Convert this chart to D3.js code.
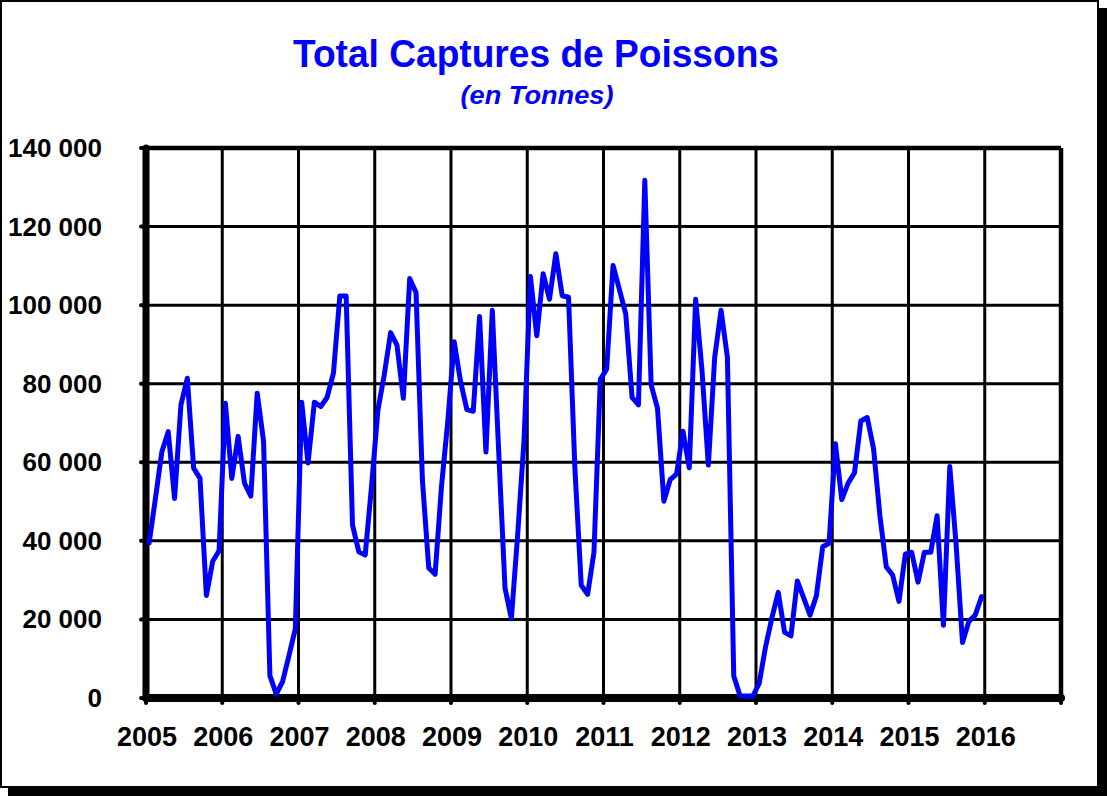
<!DOCTYPE html>
<html>
<head>
<meta charset="utf-8">
<script src="https://cdn.jsdelivr.net/npm/d3@7/dist/d3.min.js"></script>
<style>
	html, body { margin: 0; padding: 0; background: #fff; }
	svg { display: block; }
	text { font-family: 'Liberation Sans', Arial, sans-serif; font-weight: bold; }
</style>
</head>
<body>
<div id="chart"></div>
<script>
'use strict';

var years = ['2005', '2006', '2007', '2008', '2009', '2010', '2011', '2012', '2013', '2014', '2015', '2016'];
var yTicks = [0, 20000, 40000, 60000, 80000, 100000, 120000, 140000];

// monthly catches, jan 2005 -> dec 2015 (tonnes)
var captures = [
	39500, 51000, 62700, 67800, 50800, 74600, 81400, 58500, 55900, 26100, 34800, 37500,
	75000, 55900, 66600, 54700, 51400, 77600, 65400, 5700, 1000, 4200, 10800, 17600,
	75300, 59800, 75300, 74200, 76500, 82700, 102300, 102300, 44000, 37200, 36400, 54000,
	73300, 82300, 93000, 89800, 76300, 106800, 103200, 55500, 33100, 31500, 53800, 70500,
	90700, 80600, 73400, 73000, 97100, 62600, 98700, 63000, 28000, 20200, 41700, 65800,
	107300, 92200, 108000, 101500, 113100, 102400, 102000, 58400, 28700, 26400, 37100, 81100,
	83700, 110100, 104000, 97800, 76500, 74600, 131800, 79700, 73700, 50100, 55600, 57000,
	67900, 58600, 101500, 83400, 59300, 86700, 98700, 86700, 5600, 500, 500, 500,
	3700, 13000, 20400, 26900, 16700, 15800, 29800, 25500, 21100, 26000, 38500, 39400,
	64700, 50500, 54700, 57300, 70500, 71400, 63500, 46400, 33400, 31300, 24600, 36600,
	37100, 29500, 37100, 37100, 46400, 18500, 58900, 38900, 14100, 19500, 21100, 25800
];

var width = 1107;
var height = 796;
var monthsPerYear = 12;
var nMonths = years.length * monthsPerYear;

var plot = {left: 146, right: 1061, top: 148, bottom: 698};

var svg = d3.select('#chart')
	.append('svg')
	.attr('width', width)
	.attr('height', height);

// frame with shadow
svg.append('rect')
	.attr('x', 8).attr('y', 8)
	.attr('width', width - 8).attr('height', height - 8)
	.style('fill', '#000');
svg.append('rect')
	.attr('x', 1).attr('y', 1)
	.attr('width', 1097).attr('height', 786)
	.style('fill', '#fff')
	.style('stroke', '#000')
	.style('stroke-width', 2);

var x = d3.scaleLinear()
	.domain([0, nMonths])
	.range([plot.left, plot.right]);

var y = d3.scaleLinear()
	.domain([0, 140000])
	.range([plot.bottom, plot.top]);

var fr = d3.formatLocale({decimal: ',', thousands: ' ', grouping: [3], currency: ['', '']});
var fmt = fr.format(',d');

//titles
svg.append('text')
	.text('Total Captures de Poissons')
	.attr('x', 536)
	.attr('y', 67)
	.attr('text-anchor', 'middle')
	.attr('textLength', 486)
	.attr('lengthAdjust', 'spacingAndGlyphs')
	.style('font-size', '38px')
	.style('fill', '#0000ff');

svg.append('text')
	.text('(en Tonnes)')
	.attr('x', 537)
	.attr('y', 104)
	.attr('text-anchor', 'middle')
	.attr('textLength', 153)
	.attr('lengthAdjust', 'spacingAndGlyphs')
	.style('font-size', '25px')
	.style('font-style', 'italic')
	.style('fill', '#0000ff');

var viz = svg.append('g');

// grid
viz.append('g')
	.selectAll('line')
	.data(yTicks.slice(1))
	.enter()
	.append('line')
	.attr('x1', plot.left)
	.attr('x2', plot.right)
	.attr('y1', function (d) { return y(d); })
	.attr('y2', function (d) { return y(d); })
	.style('stroke', '#000')
	.style('stroke-width', function (d) { return d === 140000 ? 4.5 : 3; });

viz.append('g')
	.selectAll('line')
	.data(d3.range(1, years.length + 1))
	.enter()
	.append('line')
	.attr('x1', function (d) { return x(d * monthsPerYear); })
	.attr('x2', function (d) { return x(d * monthsPerYear); })
	.attr('y1', plot.top)
	.attr('y2', plot.bottom)
	.style('stroke', '#000')
	.style('stroke-width', function (d) { return d === years.length ? 4.5 : 3; });

// tick nubs
viz.append('g')
	.selectAll('line')
	.data(yTicks)
	.enter()
	.append('line')
	.attr('x1', plot.left - 5)
	.attr('x2', plot.left)
	.attr('y1', function (d) { return y(d); })
	.attr('y2', function (d) { return y(d); })
	.style('stroke', '#000')
	.style('stroke-width', 4)
	.style('stroke-linecap', 'round');

viz.append('g')
	.selectAll('line')
	.data(d3.range(0, years.length + 1))
	.enter()
	.append('line')
	.attr('x1', function (d) { return x(d * monthsPerYear); })
	.attr('x2', function (d) { return x(d * monthsPerYear); })
	.attr('y1', plot.bottom)
	.attr('y2', plot.bottom + 5)
	.style('stroke', '#000')
	.style('stroke-width', 4)
	.style('stroke-linecap', 'round');

// axes
viz.append('line')
	.attr('x1', plot.left).attr('x2', plot.left)
	.attr('y1', plot.top).attr('y2', plot.bottom)
	.style('stroke', '#000')
	.style('stroke-width', 7)
	.style('stroke-linecap', 'round');

viz.append('line')
	.attr('x1', plot.left).attr('x2', plot.right)
	.attr('y1', plot.bottom).attr('y2', plot.bottom)
	.style('stroke', '#000')
	.style('stroke-width', 8)
	.style('stroke-linecap', 'round');

// labels
viz.append('g')
	.selectAll('text')
	.data(yTicks)
	.enter()
	.append('text')
	.text(function (d) { return fmt(d); })
	.attr('x', 102)
	.attr('y', function (d) { return y(d) + 9; })
	.attr('text-anchor', 'end')
	.style('font-size', '26px')
	.style('fill', '#000');

viz.append('g')
	.selectAll('text')
	.data(years)
	.enter()
	.append('text')
	.text(function (d) { return d; })
	.attr('x', function (d, i) { return x(i * monthsPerYear) + 1; })
	.attr('y', 746)
	.attr('text-anchor', 'middle')
	.style('font-size', '27px')
	.style('fill', '#000');

// series
var line = d3.line()
	.x(function (d, i) { return x(i + 0.5); })
	.y(function (d) { return y(d); });

viz.append('path')
	.datum(captures)
	.attr('d', line)
	.style('fill', 'none')
	.style('stroke', '#0000ff')
	.style('stroke-width', 5)
	.style('stroke-linejoin', 'round')
	.style('stroke-linecap', 'round');
</script>
</body>
</html>
